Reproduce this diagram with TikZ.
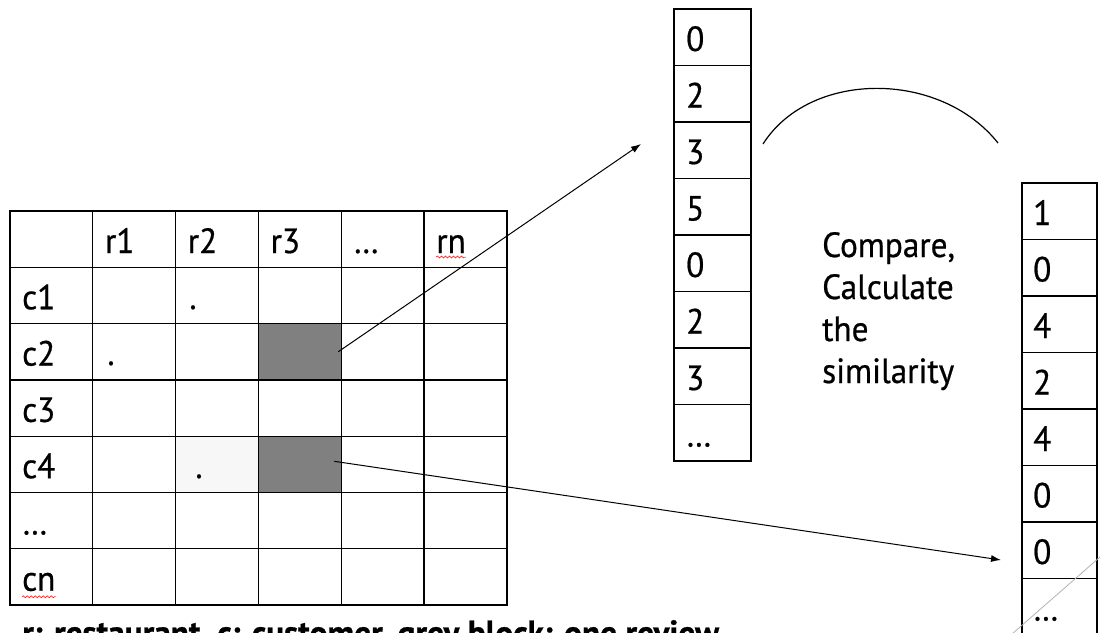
\documentclass[tikz,border=0pt]{standalone}
\usepackage{fontspec}
\setmainfont{PT Sans}[FakeBold=0.6, FakeStretch=0.95]
\usetikzlibrary{arrows.meta,decorations.pathmorphing}
\begin{document}
\begin{tikzpicture}[x=1pt,y=-1pt,
  cell/.style={draw, line width=1.3pt, minimum width=82.8pt, minimum height=56.3pt, inner sep=0pt, outer sep=0pt, anchor=north west},
  vcell/.style={draw, line width=1.3pt, minimum height=56.5pt, inner sep=0pt, outer sep=0pt, anchor=north west},
  lbl/.style={font=\fontsize{35}{42}\selectfont, inner sep=0pt, anchor=base west},
  greycell/.style={cell, fill=black!50},
  link/.style={line width=1pt, -{Latex[length=10pt,width=7pt]}},
  squiggle/.style={red, line width=0.5pt, decorate, decoration={snake, amplitude=1pt, segment length=4pt}}
]
\useasboundingbox (0,0) rectangle (1100,632);

% ---- table ----
\node[cell, fill=black!3] (shade) at ({10+82.83*2},{211+56.29*4}) {};
\foreach \i in {0,...,6}
  \foreach \j in {0,...,5}
    \node[cell] (t-\i-\j) at ({10+82.83*\j},{211+56.29*\i}) {};
\node[greycell] (g1) at ({10+82.83*3},{211+56.29*2}) {};
\node[greycell] (g2) at ({10+82.83*3},{211+56.29*4}) {};

% header labels
\foreach \j/\t in {1/r1,2/r2,3/r3,4/…}
  \node[lbl] (h-\j) at ({22+82.83*\j},{211+42}) {\t};
\node[lbl] (rn) at ({22+82.83*5},{211+42}) {rn};
% row labels
\foreach \i/\t in {1/c1,2/c2,3/c3,4/c4,5/…}
  \node[lbl] (c-\i) at ({22},{211+56.29*\i+42}) {\t};
\node[lbl] (cn) at ({22},{211+56.29*6+42}) {cn};
\draw[squiggle] ([yshift=-4pt]rn.base west) -- ([yshift=-4pt]rn.base east);
\draw[squiggle] ([yshift=-6pt]cn.base west) -- ([yshift=-6pt]cn.base east);

% dots in cells
\node[lbl, anchor=base] (d1) at (193,309) {.};
\node[lbl, anchor=base] (d2) at (111,365) {.};
\node[lbl, anchor=base] (d3) at (199,478) {.};

% ---- vector 1 ----
\foreach \k/\t in {0/0,1/2,2/3,3/5,4/0,5/2,6/3,7/…} {
  \node[vcell, minimum width=77pt] (v1-\k) at (674,{9+56.5*\k}) {};
  \node[lbl] (v1t-\k) at (686,{9+56.5*\k+42}) {\t};
}
% ---- vector 2 ----
\foreach \k/\t in {0/1,1/0,2/4,3/2,4/4,5/0,6/0,7/…} {
  \node[vcell, minimum width=75pt] (v2-\k) at (1022,{183+56.5*\k}) {};
  \node[lbl] (v2t-\k) at (1033,{183+56.5*\k+42}) {\t};
}

% ---- arc and text ----
\draw[line width=1.2pt] (763,144) .. controls (810,70) and (940,70) .. (998,143);
\node[lbl, align=left, anchor=base west] (cmp) at (822,383)
  {Compare,\\Calculate\\the\\similarity};

% ---- arrows ----
\coordinate (e1) at (641,144);
\coordinate (e2) at (1001,560);
\draw[link] ([xshift=-3pt]g1.east) -- (e1);
\draw[link] ([xshift=-7pt,yshift=3pt]g2.east) -- (e2);

% faint line bottom right
\draw[black!30, line width=0.8pt] (1012,634) -- (1100,557);

% caption (cut off at the bottom, as in the reference)
\node[lbl, font=\fontsize{35}{42}\selectfont\bfseries] (cap) at (22,645) {r: restaurant, c: customer, grey block: one review};
\end{tikzpicture}
\end{document}
